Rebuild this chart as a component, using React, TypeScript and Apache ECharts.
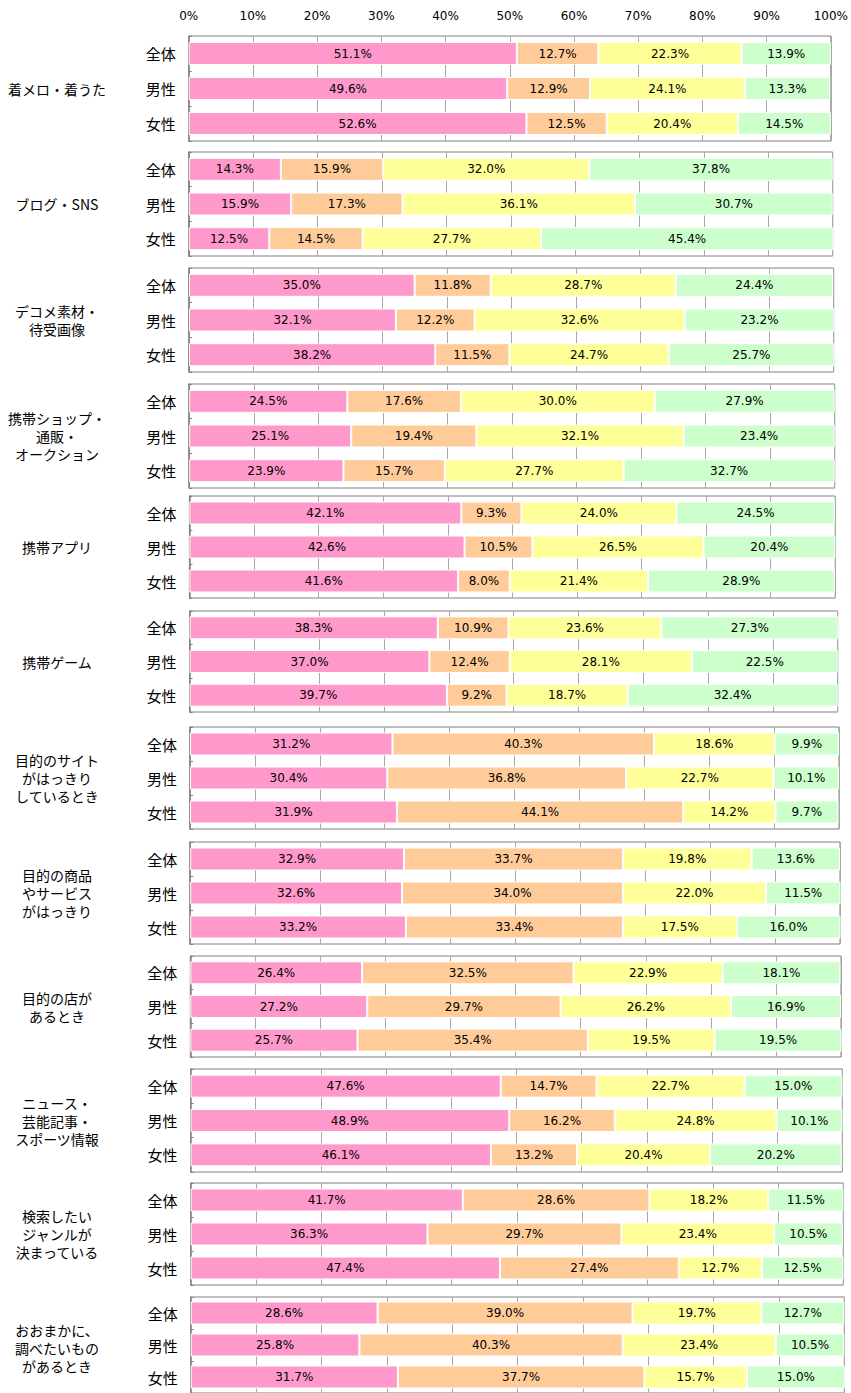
import React, { useEffect, useRef } from "react";
import * as echarts from "echarts";

// ---- data ----
const GROUPS = [
  "着メロ・着うた",
  "ブログ・SNS",
  "デコメ素材・\n待受画像",
  "携帯ショップ・\n通販・\nオークション",
  "携帯アプリ",
  "携帯ゲーム",
  "目的のサイト\nがはっきり\nしているとき",
  "目的の商品\nやサービス\nがはっきり",
  "目的の店が\nあるとき",
  "ニュース・\n芸能記事・\nスポーツ情報",
  "検索したい\nジャンルが\n決まっている",
  "おおまかに、\n調べたいもの\nがあるとき",
];
const ROWS = ["全体", "男性", "女性"];
const SEG_NAMES = ["区分1", "区分2", "区分3", "区分4"];

// each entry: [全体, 男性, 女性]
const SEG1 = [
  [51.1, 49.6, 52.6], [14.3, 15.9, 12.5], [35.0, 32.1, 38.2], [24.5, 25.1, 23.9],
  [42.1, 42.6, 41.6], [38.3, 37.0, 39.7], [31.2, 30.4, 31.9], [32.9, 32.6, 33.2],
  [26.4, 27.2, 25.7], [47.6, 48.9, 46.1], [41.7, 36.3, 47.4], [28.6, 25.8, 31.7],
];
const SEG2 = [
  [12.7, 12.9, 12.5], [15.9, 17.3, 14.5], [11.8, 12.2, 11.5], [17.6, 19.4, 15.7],
  [9.3, 10.5, 8.0], [10.9, 12.4, 9.2], [40.3, 36.8, 44.1], [33.7, 34.0, 33.4],
  [32.5, 29.7, 35.4], [14.7, 16.2, 13.2], [28.6, 29.7, 27.4], [39.0, 40.3, 37.7],
];
const SEG3 = [
  [22.3, 24.1, 20.4], [32.0, 36.1, 27.7], [28.7, 32.6, 24.7], [30.0, 32.1, 27.7],
  [24.0, 26.5, 21.4], [23.6, 28.1, 18.7], [18.6, 22.7, 14.2], [19.8, 22.0, 17.5],
  [22.9, 26.2, 19.5], [22.7, 24.8, 20.4], [18.2, 23.4, 12.7], [19.7, 23.4, 15.7],
];
const SEG4 = [
  [13.9, 13.3, 14.5], [37.8, 30.7, 45.4], [24.4, 23.2, 25.7], [27.9, 23.4, 32.7],
  [24.5, 20.4, 28.9], [27.3, 22.5, 32.4], [9.9, 10.1, 9.7], [13.6, 11.5, 16.0],
  [18.1, 16.9, 19.5], [15.0, 10.1, 20.2], [11.5, 10.5, 12.5], [12.7, 10.5, 15.0],
];
const SEGMENTS = [SEG1, SEG2, SEG3, SEG4];

// ---- layout / style ----
const COLORS = ["#FF99CC", "#FFCC99", "#FFFF99", "#CCFFCC"];
const GRID_TOP = [36, 152, 268, 384, 496, 611, 727, 842, 956, 1069, 1183, 1297];
const GRID_H = [105, 104, 104, 104, 102, 101, 102, 102, 101, 103, 102, 102];
const GRID_L = [188.7, 188.8, 189, 189.2, 189.4, 189.6, 190, 190.2, 190.3, 190.5, 190.6, 190.7];
const GRID_R = [832.7, 832.7, 833.7, 834.7, 835.3, 837.7, 839, 840, 841, 842.3, 843.3, 844.3];
const FONT = "'Noto Sans CJK JP', 'Noto Sans', sans-serif";
const NUM_FONT = "'DejaVu Sans', sans-serif";

export default function App() {
  const ref = useRef<HTMLDivElement>(null);
  useEffect(() => {
    document.body.style.margin = "0";
    const chart = echarts.init(ref.current!, null, { renderer: "svg" });
    const grid: any[] = [];
    const xAxis: any[] = [];
    const yAxis: any[] = [];
    const series: any[] = [];
    const graphic: any[] = [];
    GROUPS.forEach((g, i) => {
      const top = GRID_TOP[i];
      const h = GRID_H[i];
      grid.push({
        left: GRID_L[i],
        width: GRID_R[i] - GRID_L[i],
        top,
        height: h,
        show: true,
        borderColor: "#808080",
        borderWidth: 1,
        backgroundColor: "transparent",
      });
      xAxis.push({
        gridIndex: i,
        type: "value",
        min: 0,
        max: 100,
        interval: 10,
        position: "top",
        axisLine: { show: false },
        axisTick: { show: false },
        axisLabel: {
          show: i === 0,
          formatter: "{value}%",
          fontSize: 12,
          color: "#000",
          margin: 14,
          fontFamily: NUM_FONT,
        },
        splitLine: { show: true, lineStyle: { color: "#a8a8a8", width: 1 } },
      });
      yAxis.push({
        gridIndex: i,
        type: "category",
        data: ROWS,
        inverse: true,
        axisLine: { show: true, lineStyle: { color: "#808080", width: 1.5 } },
        axisTick: { show: true, inside: true, length: 3, lineStyle: { color: "#808080" } },
        axisLabel: { fontSize: 15, color: "#000", margin: 13, fontFamily: FONT },
      });
      SEGMENTS.forEach((seg, k) => {
        series.push({
          type: "bar",
          name: SEG_NAMES[k],
          xAxisIndex: i,
          yAxisIndex: i,
          stack: "s" + i,
          data: seg[i],
          barWidth: 23,
          itemStyle: { color: COLORS[k], borderColor: "#ffffff", borderWidth: 1 },
          label: {
            show: true,
            position: "inside",
            formatter: (p: any) => Number(p.value).toFixed(1) + "%",
            fontSize: 12,
            color: "#000",
            fontFamily: NUM_FONT,
          },
        });
      });
      graphic.push({
        type: "text",
        x: 57,
        y: top + h / 2,
        style: {
          text: g,
          fontSize: 14,
          fontFamily: FONT,
          fill: "#000",
          align: "center",
          verticalAlign: "middle",
          lineHeight: 18,
        },
      });
    });
    chart.setOption({
      animation: false,
      backgroundColor: "#ffffff",
      textStyle: { fontFamily: FONT },
      grid,
      xAxis,
      yAxis,
      series,
      graphic,
    });
    return () => chart.dispose();
  }, []);
  return <div ref={ref} style={{ width: 851, height: 1393 }} />;
}
